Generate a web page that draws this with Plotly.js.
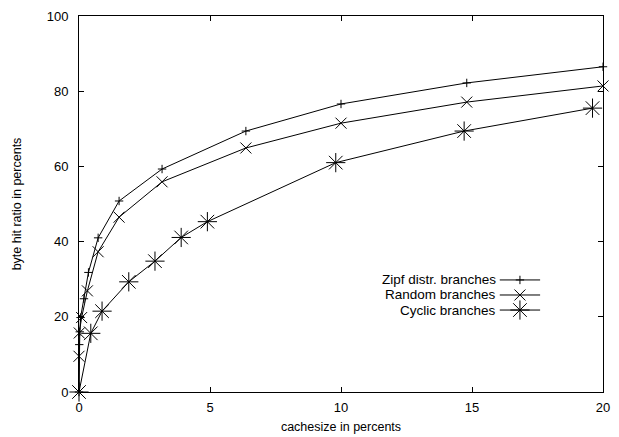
<!DOCTYPE html>
<html>
<head>
<meta charset="utf-8">
<script src="https://cdn.plot.ly/plotly-3.0.1.min.js"></script>
<style>html,body{margin:0;padding:0;background:#fff;}#chart{width:619px;height:437px;}</style>
</head>
<body>
<div id="chart"></div>
<script>
// Data
const zipfX = [0, 0.01, 0.03, 0.06, 0.19, 0.36, 0.73, 1.53, 3.17, 6.37, 10.0, 14.8, 20.0];
const zipfY = [0, 12.6, 16.0, 19.8, 24.8, 31.8, 41.0, 50.8, 59.3, 69.4, 76.6, 82.2, 86.5];

const randX = [0, 0.0, 0.01, 0.1, 0.32, 0.73, 1.53, 3.17, 6.37, 10.0, 14.8, 20.0];
const randY = [0, 9.5, 15.7, 19.8, 26.9, 37.3, 46.5, 55.9, 64.9, 71.5, 77.1, 81.4];

const cycX = [0, 0.45, 0.88, 1.9, 2.9, 3.9, 4.9, 9.8, 14.7, 19.6];
const cycY = [0, 15.6, 21.5, 29.3, 34.8, 41.1, 45.3, 61.0, 69.4, 75.5];

const seriesNames = ["Zipf distr. branches", "Random branches", "Cyclic branches"];
const xTicks = [0, 5, 10, 15, 20];
const yTicks = [0, 20, 40, 60, 80, 100];

const font = {family: "Liberation Sans, Arial, sans-serif", size: 13, color: "#000"};
const keyFont = {family: "Liberation Sans, Arial, sans-serif", size: 13.5, color: "#000"};
const titleFont = {family: "Liberation Sans, Arial, sans-serif", size: 12.5, color: "#000"};

const traces = [
  {x: zipfX, y: zipfY, name: seriesNames[0], mode: "lines+markers", cliponaxis: false,
   line: {color: "#000", width: 1},
   marker: {symbol: "cross-thin-open", size: 6, color: "#000", line: {color: "#000", width: 1}}},
  {x: randX, y: randY, name: seriesNames[1], mode: "lines+markers", cliponaxis: false,
   line: {color: "#000", width: 1},
   marker: {symbol: "x-thin-open", size: 11, color: "#000", line: {color: "#000", width: 1}}},
  {x: cycX, y: cycY, name: seriesNames[2], mode: "lines+markers", cliponaxis: false,
   line: {color: "#000", width: 1},
   marker: {symbol: "asterisk-open", size: 16, color: "#000", line: {color: "#000", width: 1}}}
];

// gnuplot-style key: right-aligned text, sample line to the right
const keyRows = [0.298, 0.258, 0.218];
const keyTextX = 0.80;
const keyLineX0 = 0.803, keyLineX1 = 0.88;
const annotations = [];
const shapes = [];
seriesNames.forEach((n, i) => {
  annotations.push({xref: "paper", yref: "paper", x: keyTextX, y: keyRows[i], text: n,
    showarrow: false, xanchor: "right", yanchor: "middle", font: keyFont});
  shapes.push({type: "line", xref: "paper", yref: "paper", x0: keyLineX0, x1: keyLineX1,
    y0: keyRows[i], y1: keyRows[i], line: {color: "#000", width: 1}});
});
// key sample markers
const keyTrace = [0,1,2].map(i => ({
  x: [(keyLineX0 + keyLineX1) / 2], y: [keyRows[i]], xaxis: "x2", yaxis: "y2",
  mode: "markers", showlegend: false, hoverinfo: "skip",
  marker: traces[i].marker
}));

const layout = {
  width: 619, height: 437,
  margin: {l: 79, r: 16, t: 16, b: 45},
  paper_bgcolor: "#fff", plot_bgcolor: "#fff",
  showlegend: false,
  font: font,
  xaxis: {range: [0, 20], tickvals: xTicks, ticktext: xTicks.map(String),
    ticks: "inside", ticklen: 5, tickcolor: "#000", mirror: "ticks",
    showline: true, linecolor: "#000", linewidth: 1, showgrid: false, zeroline: false,
    ticklabelstandoff: 3,
    title: {text: "cachesize in percents", font: titleFont, standoff: 8}, tickfont: font},
  yaxis: {range: [0, 100], tickvals: yTicks, ticktext: yTicks.map(String),
    ticks: "inside", ticklen: 5, tickcolor: "#000", mirror: "ticks",
    showline: true, linecolor: "#000", linewidth: 1, showgrid: false, zeroline: false,
    ticklabelstandoff: 7,
    title: {text: "byte hit ratio in percents", font: titleFont, standoff: 22}, tickfont: font},
  xaxis2: {range: [0, 1], overlaying: "x", visible: false, domain: [0, 1]},
  yaxis2: {range: [0, 1], overlaying: "y", visible: false},
  annotations: annotations,
  shapes: shapes
};

Plotly.newPlot("chart", traces.concat(keyTrace), layout, {staticPlot: true, displayModeBar: false});
</script>
</body>
</html>
